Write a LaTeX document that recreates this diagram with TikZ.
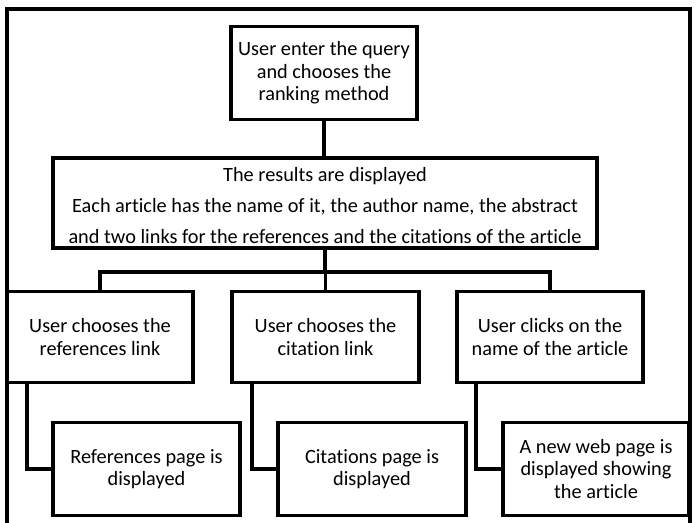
\documentclass[tikz,border=0pt]{standalone}
\usepackage{fontspec}
\setmainfont[Ligatures=NoCommon]{Carlito}
\begin{document}
\begin{tikzpicture}[x=1pt,y=-1pt,
  box/.style={draw=black, line width=3.3pt, fill=white, align=center, inner sep=0pt,
    font=\fontsize{20.3}{22.5}\selectfont},
  conn/.style={draw=black, line width=3.3pt}]
\useasboundingbox (0,0) rectangle (700,522);
\draw[conn] (7,530) -- (7,9) -- (690,9) -- (690,530);
\node[box, minimum width=186, minimum height=93] (top) at (324,73)
  {User enter the query\\and chooses the\\ranking method};
\node[box, minimum width=544, minimum height=90] (res) at (325,203) {};
\node[align=center, inner sep=0pt, font=\fontsize{20.3}{31}\selectfont] (restext) at (325,205.5)
  {The results are displayed\\Each article has the name of it, the author name, the abstract\\and two links for the references and the citations of the article};
\node[box, minimum width=186, minimum height=91] (m1) at (100,337)
  {User chooses the\\references link};
\node[box, minimum width=187, minimum height=91] (m2) at (325.5,337)
  {User chooses the\\citation link};
\node[box, minimum width=186, minimum height=91] (m3) at (550,337)
  {User clicks on the\\name of the article};
\node[box, minimum width=187, minimum height=93] (b1) at (146.5,469)
  {References page is\\displayed};
\node[box, minimum width=188, minimum height=93] (b2) at (372,469)
  {Citations page is\\displayed};
\node[box, minimum width=186, minimum height=93] (b3) at (596,469)
  {A new web page is\\displayed showing\\the article};
\coordinate (bus) at (325,272);
\draw[conn] (top.south) -- (top.south |- res.north);
\draw[conn] (res.south) -- (res.south |- bus);
\draw[conn] (m1.north) -- (m1.north |- bus) -| (m3.north);
\draw[conn] (m2.north) -- (m2.north |- bus);
\draw[conn] ([xshift=-73]m1.south) |- (b1.west);
\draw[conn] ([xshift=-73.5]m2.south) |- (b2.west);
\draw[conn] ([xshift=-74]m3.south) |- (b3.west);
\end{tikzpicture}
\end{document}
